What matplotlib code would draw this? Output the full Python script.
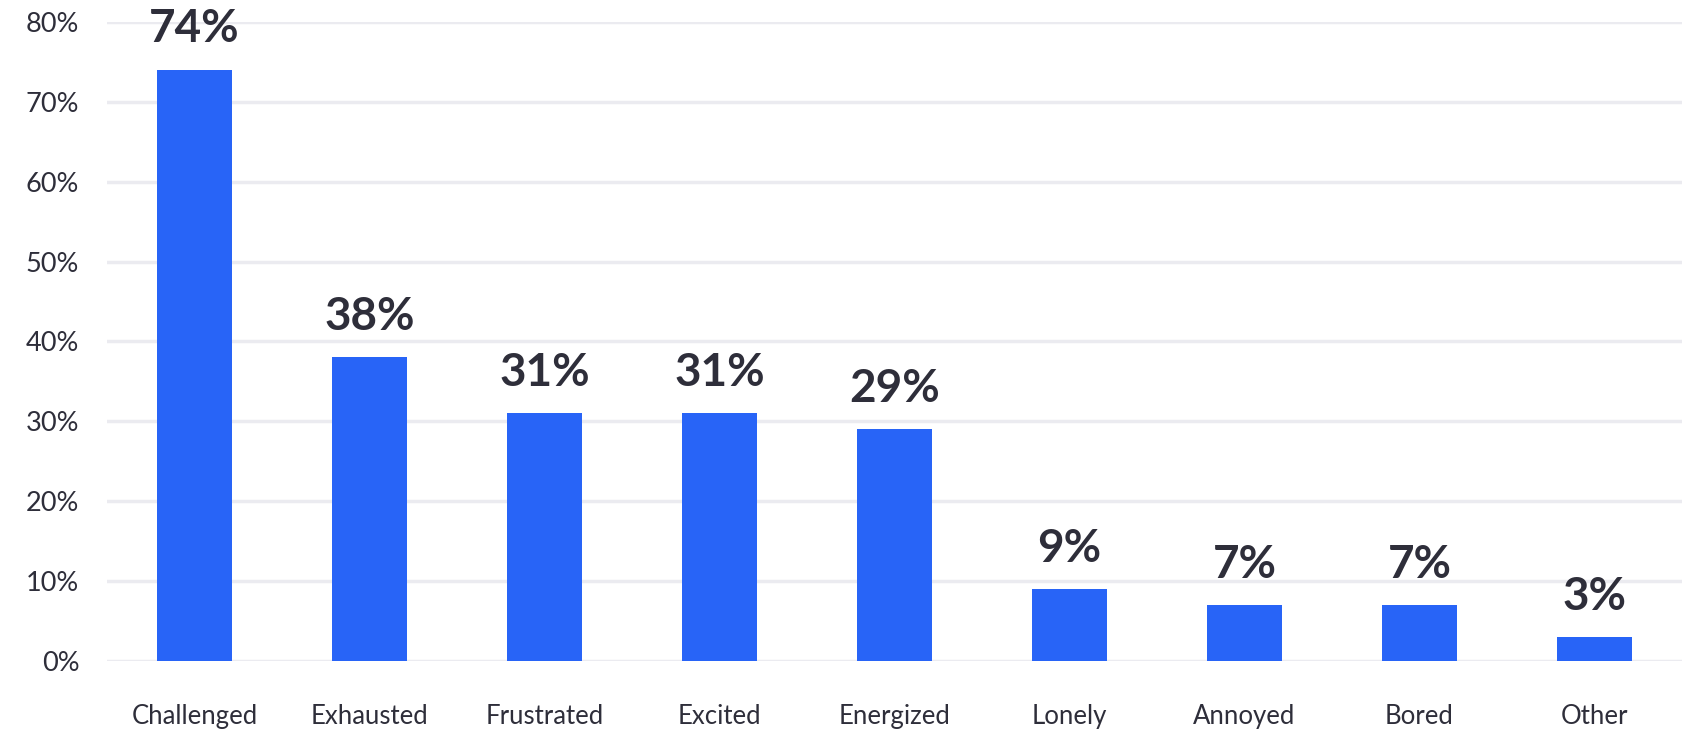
import matplotlib.pyplot as plt
from matplotlib.ticker import FuncFormatter

categories = ["Challenged", "Exhausted", "Frustrated", "Excited", "Energized",
              "Lonely", "Annoyed", "Bored", "Other"]
values = [74, 38, 31, 31, 29, 9, 7, 7, 3]
yticks = [0, 10, 20, 30, 40, 50, 60, 70, 80]

bar_color = "#2864F7"
text_color = "#2E2E3A"
grid_color = "#EBEBF0"

plt.rcParams["font.family"] = ["Lato", "DejaVu Sans"]

fig = plt.figure(figsize=(16.91, 7.31), dpi=100)
ax = fig.add_axes([0.0633, 0.0958, 0.9314, 0.8742])

x = range(len(categories))
bars = ax.bar(x, values, width=0.43, color=bar_color, zorder=3)

for b, v in zip(bars, values):
    ax.annotate(f"{v}%", (b.get_x() + b.get_width() / 2, v),
                xytext=(0, 14), textcoords="offset points",
                ha="center", va="bottom", fontsize=33, fontweight="bold",
                color=text_color, annotation_clip=False)

ax.set_xlim(-0.5, len(categories) - 0.5)
ax.set_ylim(0, 80)
ax.set_yticks(yticks)
ax.yaxis.set_major_formatter(FuncFormatter(lambda v, p: f"{v:.0f}%"))
ax.set_xticks(list(x))
ax.set_xticklabels(categories)

ax.grid(axis="y", color=grid_color, linewidth=2.5, zorder=0)
ax.tick_params(axis="y", length=0, pad=20, labelsize=19.5, labelcolor=text_color)
ax.tick_params(axis="x", length=0, pad=31, labelsize=18.5, labelcolor=text_color)
for s in ax.spines.values():
    s.set_visible(False)

fig.savefig("out.png", dpi=100)
